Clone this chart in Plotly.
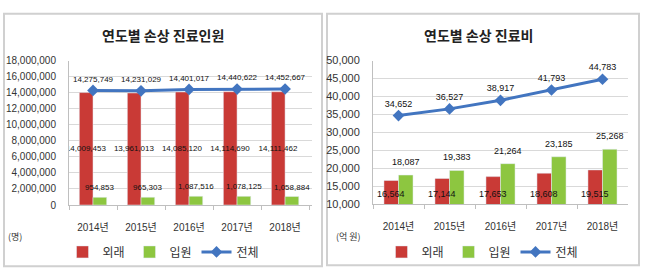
import plotly.graph_objects as go

years = ["2014년", "2015년", "2016년", "2017년", "2018년"]
patients_out = [14009453, 13961013, 14085120, 14114690, 14111462]
patients_in = [954853, 965303, 1087516, 1078125, 1058884]
patients_total = [14275749, 14231029, 14401017, 14440622, 14452667]
cost_out = [16564, 17144, 17653, 18608, 19515]
cost_in = [18087, 19383, 21264, 23185, 25268]
cost_total = [34652, 36527, 38917, 41793, 44783]
cost_axis_min = 10000

RED = "#C93A36"
GREEN = "#8DC640"
BLUE = "#4275C0"
FONT = "Liberation Sans, Noto Sans CJK KR, sans-serif"
KFONT = "Noto Sans CJK KR, sans-serif"
W, H = 650, 278
BARGAP = 0.43


def fmt(vals):
    return [f"{v:,}" for v in vals]


fig = go.Figure()

# Left chart
fig.add_trace(go.Bar(x=years, y=patients_out, name="외래", marker_color=RED,
                     text=fmt(patients_out), textposition="inside", insidetextanchor="middle",
                     textangle=0, constraintext="none",
                     insidetextfont=dict(size=8, color="#111", family=FONT),
                     xaxis="x", yaxis="y", legend="legend"))
fig.add_trace(go.Bar(x=years, y=patients_in, name="입원", marker_color=GREEN,
                     xaxis="x", yaxis="y", legend="legend"))
fig.add_trace(go.Scatter(x=years, y=patients_total, name="전체", mode="lines+markers+text",
                         line=dict(color=BLUE, width=3), marker=dict(symbol="diamond", size=9, color=BLUE),
                         text=fmt(patients_total), textposition="top center",
                         textfont=dict(size=8, color="#111", family=FONT), cliponaxis=False,
                         xaxis="x", yaxis="y", legend="legend"))

# Right chart
fig.add_trace(go.Bar(x=years, y=cost_out, name="외래", marker_color=RED,
                     xaxis="x2", yaxis="y2", legend="legend2"))
fig.add_trace(go.Bar(x=years, y=cost_in, name="입원", marker_color=GREEN,
                     xaxis="x2", yaxis="y2", legend="legend2"))
fig.add_trace(go.Scatter(x=years, y=cost_total, name="전체", mode="lines+markers+text",
                         line=dict(color=BLUE, width=3), marker=dict(symbol="diamond", size=9, color=BLUE),
                         text=fmt(cost_total), textposition="top center",
                         textfont=dict(size=9, color="#111", family=FONT), cliponaxis=False,
                         xaxis="x2", yaxis="y2", legend="legend2"))

xcommon = dict(type="category", showline=True, linecolor="#BFBFBF", linewidth=1,
               ticks="outside", tickson="boundaries", ticklen=4, tickcolor="#BFBFBF",
               tickfont=dict(size=10, color="#333", family=FONT), showgrid=False,
               ticklabelstandoff=13)
ycommon = dict(showline=True, linecolor="#BFBFBF", linewidth=1, gridcolor="#D9D9D9",
               zeroline=False, tickformat=",", ticks="", ticklabelstandoff=10)

legcommon = dict(orientation="h", xanchor="center", y=(H - 257) / H, yanchor="middle",
                 font=dict(size=12, family=KFONT, color="#333"), itemwidth=30,
                 entrywidth=22, bgcolor="rgba(0,0,0,0)", traceorder="normal")

fig.update_layout(
    width=W, height=H, margin=dict(l=0, r=0, t=0, b=0),
    paper_bgcolor="white", plot_bgcolor="white",
    barmode="group", bargap=BARGAP, bargroupgap=0,
    font=dict(family=FONT, color="#333"),
    xaxis=dict(domain=[69 / W, 312 / W], anchor="y", **xcommon),
    yaxis=dict(domain=[(H - 208) / H, (H - 57) / H], anchor="x", range=[0, 18000000], dtick=2000000,
               tickfont=dict(size=10, color="#333", family=FONT), **ycommon),
    xaxis2=dict(domain=[373 / W, 628 / W], anchor="y2", **xcommon),
    yaxis2=dict(domain=[(H - 207) / H, (H - 57) / H], anchor="x2", range=[cost_axis_min, 50000], dtick=5000,
                tickfont=dict(size=11, color="#333", family=FONT), **ycommon),
    legend=dict(x=163 / W, **legcommon),
    legend2=dict(x=482 / W, **legcommon),
    showlegend=True,
)

# bar offsets in pixels (half of one bar width) for data labels
left_half = (312 - 69) / 5 * (1 - BARGAP) / 4
right_half = (628 - 373) / 5 * (1 - BARGAP) / 4

for yr, v in zip(years, patients_in):
    fig.add_annotation(x=yr, y=v, xref="x", yref="y", text=f"{v:,}", showarrow=False,
                       xshift=left_half, yshift=3, yanchor="bottom",
                       font=dict(size=8, color="#111", family=FONT))
for yr, v in zip(years, cost_in):
    fig.add_annotation(x=yr, y=v, xref="x2", yref="y2", text=f"{v:,}", showarrow=False,
                       xshift=right_half, yshift=6, yanchor="bottom",
                       font=dict(size=9, color="#111", family=FONT))
for yr, v in zip(years, cost_out):
    fig.add_annotation(x=yr, y=cost_axis_min, xref="x2", yref="y2", text=f"{v:,}", showarrow=False,
                       xshift=-right_half, yshift=3, yanchor="bottom",
                       font=dict(size=9, color="#111", family=FONT))

fig.add_annotation(text="<b>연도별 손상 진료인원</b>", x=163 / W, y=(H - 30) / H, xref="paper", yref="paper",
                   xanchor="center", yanchor="middle",
                   showarrow=False, font=dict(size=14, family=KFONT, color="#222"))
fig.add_annotation(text="<b>연도별 손상 진료비</b>", x=478 / W, y=(H - 30) / H, xref="paper", yref="paper",
                   xanchor="center", yanchor="middle",
                   showarrow=False, font=dict(size=14, family=KFONT, color="#222"))
fig.add_annotation(text="(명)", x=15 / W, y=(H - 241) / H, xref="paper", yref="paper",
                   xanchor="center", yanchor="middle",
                   showarrow=False, font=dict(size=9, family=KFONT, color="#333"))
fig.add_annotation(text="(억 원)", x=348 / W, y=(H - 241) / H, xref="paper", yref="paper",
                   xanchor="center", yanchor="middle",
                   showarrow=False, font=dict(size=9, family=KFONT, color="#333"))

for x0, x1, y0, y1 in [(4, 322, 8, 272), (327, 639, 8, 271)]:
    fig.add_shape(type="rect", xref="paper", yref="paper",
                  x0=x0 / W, x1=x1 / W, y0=(H - y1) / H, y1=(H - y0) / H,
                  line=dict(color="#D0D0D0", width=2), fillcolor="rgba(0,0,0,0)", layer="below")

fig.write_html("out.html")
